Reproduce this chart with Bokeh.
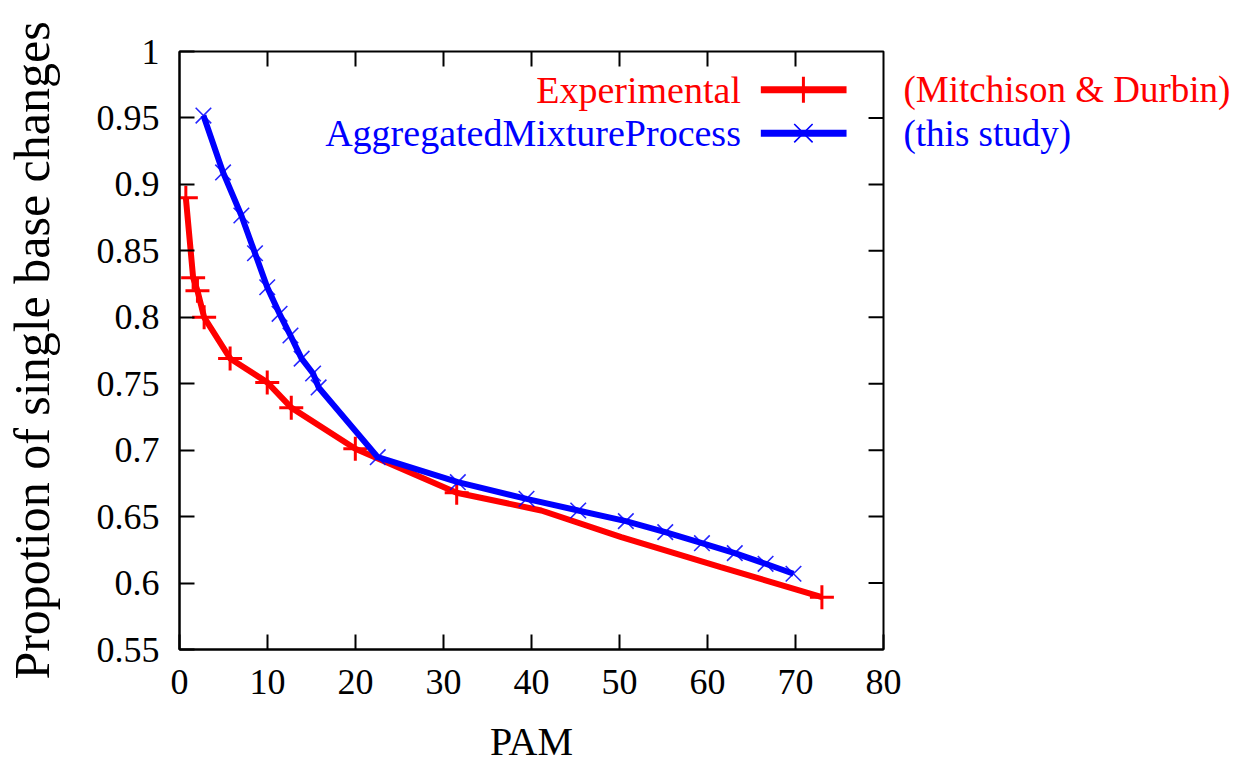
from bokeh.plotting import figure
from bokeh.models import Range1d, Label, FixedTicker
from bokeh.layouts import row
from bokeh.core.properties import value
from bokeh.embed import file_html
from bokeh.resources import INLINE

# ---- data ----
# Experimental (Mitchison & Durbin); marked = drawn with a "+" marker
exp_pam = [0.72, 1.55, 2.04, 2.8, 5.75, 9.97, 12.7, 19.98, 31.5, 41.1, 50.2, 61.5, 73.0]
exp_prop = [0.890, 0.8297, 0.820, 0.800, 0.769, 0.751, 0.732, 0.701, 0.668, 0.6546, 0.6345, 0.612, 0.5894]
exp_marked = [True, True, True, True, True, True, True, True, True, False, False, False, True]

# AggregatedMixtureProcess (this study)
amp_pam = [2.72, 4.95, 7.03, 8.58, 9.97, 11.37, 12.61, 13.88, 15.18, 15.81,
           22.53, 31.63, 39.43, 45.31, 50.72, 55.2, 59.37, 63.1, 66.6, 69.77]
amp_prop = [0.9518, 0.909, 0.8766, 0.8482, 0.8226, 0.8026, 0.7863, 0.7689, 0.7577, 0.7472,
            0.6947, 0.6759, 0.6634, 0.6546, 0.6466, 0.6383, 0.6300, 0.6225, 0.6145, 0.6070]

x_ticks = [0, 10, 20, 30, 40, 50, 60, 70, 80]
y_ticks = [0.55, 0.6, 0.65, 0.7, 0.75, 0.8, 0.85, 0.9, 0.95, 1.0]
y_tick_labels = ["0.55", "0.6", "0.65", "0.7", "0.75", "0.8", "0.85", "0.9", "0.95", "1"]

series_names = ["Experimental", "AggregatedMixtureProcess"]
series_notes = ["(Mitchison & Durbin)", "(this study)"]
RED = "#ff0000"
BLUE = "#0000ff"
FONT = "Liberation Serif"

X0, X1 = 0, 80
Y0, Y1 = 0.55, 1.0
MAIN_W = 902
p = figure(width=MAIN_W, height=784, x_range=Range1d(X0, X1), y_range=Range1d(Y0, Y1),
           output_backend="svg", toolbar_location=None,
           min_border_left=177, min_border_right=MAIN_W - 883, min_border_top=51,
           min_border_bottom=135)
p.grid.visible = False
p.outline_line_color = "black"
p.outline_line_width = 2
p.background_fill_color = "white"
p.border_fill_color = "white"

def style_axis(ax):
    ax.axis_line_width = 2
    ax.axis_line_color = "black"
    ax.major_tick_line_width = 2
    ax.major_tick_line_color = "black"
    ax.major_tick_in = 15
    ax.major_tick_out = 0
    ax.minor_tick_in = 0
    ax.minor_tick_out = 0
    ax.major_label_text_font = FONT
    ax.major_label_text_font_size = "36px"
    ax.major_label_text_color = "black"
    ax.axis_label_text_font = FONT
    ax.axis_label_text_font_style = "normal"
    ax.axis_label_text_color = "black"

xa = p.xaxis[0]
style_axis(xa)
xa.ticker = FixedTicker(ticks=x_ticks)
xa.major_label_standoff = 20
xa.axis_label = "PAM"
xa.axis_label_text_font_size = "40px"
xa.axis_label_standoff = 22

ya = p.yaxis[0]
style_axis(ya)
ya.ticker = FixedTicker(ticks=y_ticks)
ya.major_label_overrides = {t: s for t, s in zip(y_ticks, y_tick_labels)}
ya.major_label_standoff = 20
ya.axis_label = "Propotion of single base changes"
ya.axis_label_text_font_size = "50px"
ya.axis_label_standoff = 34

# mirror ticks on the top and right edges (inward, same length as the bottom/left ones)
tick_dy = 15 / 598 * (Y1 - Y0)
tick_dx = 15 / 706 * (X1 - X0)
inner_x = x_ticks[1:-1]
inner_y = y_ticks[1:-1]
p.segment(inner_x, [Y1] * len(inner_x), inner_x, [Y1 - tick_dy] * len(inner_x),
          line_color="black", line_width=2)
p.segment([X1] * len(inner_y), inner_y, [X1 - tick_dx] * len(inner_y), inner_y,
          line_color="black", line_width=2)

# ---- series ----
p.line(exp_pam, exp_prop, line_color=RED, line_width=6)
mx = [x for x, m in zip(exp_pam, exp_marked) if m]
my = [y for y, m in zip(exp_prop, exp_marked) if m]
p.scatter(mx, my, marker="cross", size=24, line_color=RED, line_width=3)

p.line(amp_pam, amp_prop, line_color=BLUE, line_width=6)
p.scatter(amp_pam, amp_prop, marker="x", size=22, line_color=BLUE, line_width=1.6, line_alpha=0.85)

# ---- key (gnuplot style: label, then sample) ----
key_y = [0.9712, 0.9385]
key_text_x = 63.8
key_x0, key_x1, key_xm = 66.06, 75.8, 70.9
colors = [RED, BLUE]
markers = ["cross", "x"]
mwidth = [3, 1.6]
for i in range(2):
    p.add_layout(Label(x=key_text_x, y=key_y[i], text=series_names[i], text_align="right",
                       text_baseline="middle", text_color=colors[i], text_font=FONT,
                       text_font_size="38px"))
    p.segment([key_x0], [key_y[i]], [key_x1], [key_y[i]], line_color=colors[i], line_width=7)
    p.scatter([key_xm], [key_y[i]], marker=markers[i], size=26, line_color=colors[i],
              line_width=mwidth[i])

# ---- notes to the right of the plot frame ----
side_w = 1233 - MAIN_W
side = figure(width=side_w, height=784, x_range=Range1d(0, side_w), y_range=p.y_range,
              output_backend="svg", toolbar_location=None,
              min_border_left=0, min_border_right=0, min_border_top=51, min_border_bottom=135)
side.axis.visible = False
side.grid.visible = False
side.outline_line_color = None
side.background_fill_color = "white"
side.border_fill_color = "white"
side.text([1, 1], key_y, text=series_notes, text_color=colors, text_align="left",
          text_baseline="middle", text_font=value(FONT), text_font_size="37px")

layout = row(p, side, spacing=0)
open("out.html", "w").write(file_html(layout, INLINE))
